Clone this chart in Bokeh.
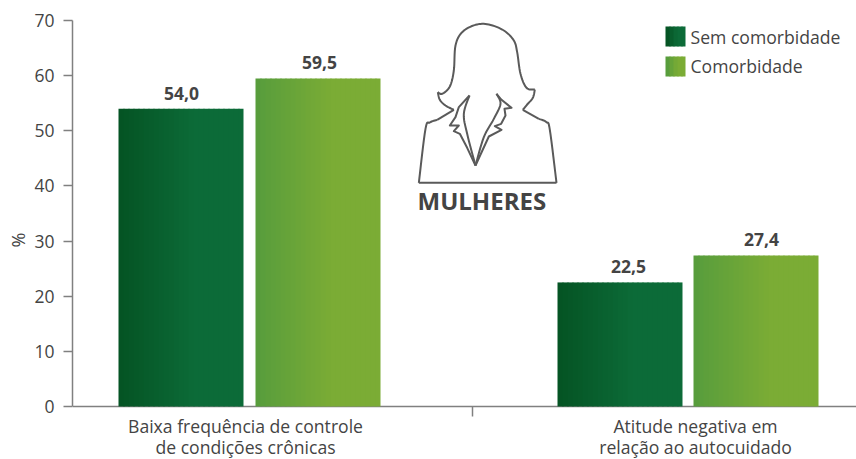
from bokeh.plotting import figure
from bokeh.models import Range1d, FixedTicker, LinearAxis
from bokeh.core.properties import value
from bokeh.embed import file_html
from bokeh.resources import INLINE

# ---- data
categories = [["Baixa frequência de controle", "de condições crônicas"],
              ["Atitude negativa em", "relação ao autocuidado"]]
series_names = ["Sem comorbidade", "Comorbidade"]
sem_comorbidade = [54.0, 22.5]
comorbidade = [59.5, 27.4]
y_ticks = [0, 10, 20, 30, 40, 50, 60, 70]

# ---- layout (x axis runs in page pixels)
FONT = "Open Sans"
TXT = "#444444"
AX = "#808080"
W, H = 856, 459
PLOT_TOP, PLOT_ZERO = 20, 406
bar_left = [[118, 557], [255, 693]]
label_x = [[181, 628], [319, 761]]
cat_x = [245, 695]
cat_line_y = [425.5, 446]
mid_tick = 472
slices = 25
slice_w = 5
dark = ((5, 84, 36), (12, 107, 56))
light = ((88, 157, 60), (123, 172, 53))


def grad(stops, t):
    t = min(1.0, t / 0.62)
    return "#%02x%02x%02x" % tuple(round(a + (b - a) * t) for a, b in zip(*stops))


y_low = -(H - PLOT_ZERO) * 70 / (PLOT_ZERO - PLOT_TOP)
p = figure(width=W, height=H, output_backend="svg", toolbar_location=None,
           x_range=Range1d(72, W), y_range=Range1d(y_low, 70),
           min_border_left=72, min_border_right=0, min_border_top=PLOT_TOP, min_border_bottom=0,
           x_axis_type=None, y_axis_type=None, outline_line_color=None)
p.grid.visible = False
p.background_fill_color = "white"
p.extra_y_ranges["px"] = Range1d(H, PLOT_TOP)

# y axis
ya = LinearAxis(ticker=FixedTicker(ticks=y_ticks), axis_label="%", bounds=(0, 70))
ya.minor_tick_line_color = None
ya.major_tick_in = 0
ya.major_tick_out = 9
ya.major_tick_line_color = AX
ya.major_tick_line_width = 1.5
ya.axis_line_color = AX
ya.axis_line_width = 1.5
ya.major_label_text_font = FONT
ya.major_label_text_font_size = "17.5px"
ya.major_label_text_color = TXT
ya.major_label_standoff = 9
ya.axis_label_text_font = FONT
ya.axis_label_text_font_size = "18px"
ya.axis_label_text_font_style = "normal"
ya.axis_label_text_color = TXT
ya.axis_label_standoff = 1
p.add_layout(ya, "left")

# x axis rule, its one tick, and the two-line category labels
p.segment(x0=[72], x1=[W], y0=[0], y1=[0], line_color=AX, line_width=1.5)
p.segment(x0=[mid_tick], x1=[mid_tick], y0=[PLOT_ZERO], y1=[PLOT_ZERO + 10], y_range_name="px",
          line_color=AX, line_width=1.5)
for x, lines in zip(cat_x, categories):
    for y, line in zip(cat_line_y, lines):
        p.text(x=[x], y=[y], text=[line], y_range_name="px", text_font=value(FONT),
               text_font_size="17.6px", text_color=TXT, text_align="center",
               text_baseline="middle")

# bars, each a stack of thin slices that make the horizontal gradient
for vals, lefts, stops, lx in zip((sem_comorbidade, comorbidade), bar_left, (dark, light), label_x):
    for v, l in zip(vals, lefts):
        sl = [l + i * slice_w for i in range(slices)]
        p.quad(left=sl, right=[s + slice_w + (1 if i < slices - 1 else 0) for i, s in enumerate(sl)],
               bottom=0, top=v, line_color=None,
               fill_color=[grad(stops, i / (slices - 1)) for i in range(slices)])
    p.text(x=lx, y=vals, text=[f"{v:.1f}".replace(".", ",") for v in vals],
           text_font=value(FONT), text_font_style="bold", text_font_size="17.5px",
           text_color=TXT, text_align="center", text_baseline="bottom", y_offset=-9)

# legend
leg_y = [26, 56]
leg_text_y = [36, 65]
for name, y0, ty, stops in zip(series_names, leg_y, leg_text_y, (dark, light)):
    xs = [665 + i * 4 for i in range(5)]
    p.quad(left=xs, right=[x + 4 + (1 if i < 4 else 0) for i, x in enumerate(xs)],
           bottom=y0 + 20, top=y0, y_range_name="px", line_color=None,
           fill_color=[grad(stops, i / 4) for i in range(5)])
    p.text(x=[690], y=[ty], text=[name], y_range_name="px",
           text_font=value(FONT), text_font_size="17.6px", text_color=TXT,
           text_align="left", text_baseline="middle")


# silhouette: traced in the 3x crop at (400,10)
def smooth(pts, k=8):
    out = []
    P = [pts[0]] + list(pts) + [pts[-1]]
    for i in range(1, len(P) - 2):
        p0, p1, p2, p3 = P[i - 1], P[i], P[i + 1], P[i + 2]
        for j in range(k):
            t = j / k
            out.append(tuple(0.5 * (2 * b + (c - a) * t + (2 * a - 5 * b + 4 * c - d) * t * t
                                    + (3 * b - a - 3 * c + d) * t ** 3)
                             for a, b, c, d in zip(p0, p1, p2, p3)))
    out.append(pts[-1])
    return out


segments = [
    ([(55, 517), (468, 517)], False),
    ([(55, 517), (75, 355), (88, 336), (110, 328)], True),
    ([(110, 328), (160, 298)], False),
    ([(160, 298), (135, 285), (118, 268), (112, 245)], True),
    ([(112, 245), (125, 250), (148, 228), (160, 180), (165, 105), (185, 65), (225, 43),
      (265, 42), (310, 60), (340, 90), (350, 125), (360, 190), (378, 232), (403, 237)], True),
    ([(403, 237), (397, 262), (380, 282), (367, 298)], True),
    ([(367, 298), (415, 325)], False),
    ([(415, 325), (438, 335), (448, 358), (468, 517)], True),
    ([(207, 255), (175, 290), (165, 320), (148, 345), (175, 345), (160, 362), (178, 370),
      (200, 412), (225, 465)], False),
    ([(207, 255), (190, 310), (200, 370), (225, 465)], True),
    ([(288, 250), (303, 268), (333, 292), (312, 295), (315, 315), (302, 340), (283, 347),
      (303, 358), (265, 378), (225, 465)], False),
    ([(288, 250), (300, 280), (280, 325), (250, 380), (225, 465)], True),
]
for pts, sm in segments:
    q = smooth(pts) if sm else pts
    p.line(x=[400 + a / 3 for a, _ in q], y=[10 + b / 3 for _, b in q], y_range_name="px",
           line_color="#5a5a5a", line_width=2, line_join="round")

p.text(x=[417], y=[200], text=["MULHERES"], y_range_name="px",
       text_font=value(FONT), text_font_style="bold", text_font_size="24px",
       text_color=TXT, text_align="left", text_baseline="middle")

open("out.html", "w").write(file_html(p, INLINE))
